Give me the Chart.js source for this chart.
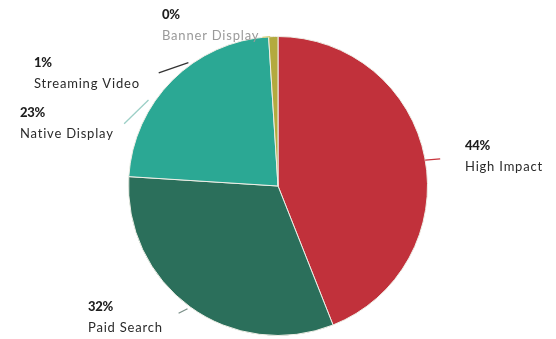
<!DOCTYPE html>
<html>
<head>
<meta charset="utf-8">
<script src="https://cdn.jsdelivr.net/npm/chart.js@4/dist/chart.umd.min.js"></script>
<style>
  html, body { margin: 0; padding: 0; background: #fff; }
  #wrap { width: 556px; height: 339px; }
</style>
</head>
<body>
<div id="wrap"><canvas id="pieChart" width="556" height="339"></canvas></div>
<script>
// channel split, clockwise from 12 o'clock
const channels = ["High Impact", "Paid Search", "Native Display", "Streaming Video", "Banner Display"];
const shares = [44, 32, 23, 1, 0];
const sliceColors = ["#c1313b", "#2b6f5b", "#2ba894", "#b3aa3e", "#d8d070"];

// where each label sits, and its little leader stroke (angle deg, radius factor) -> (angle, radius)
const labelAt = [[465, 146], [88, 307], [20, 113], [34, 63], [162, 15]];
const leaders = [
  [80, 1.0, 80.5, 1.1, "#c8343c"],
  [218, 1.08, 216.4, 1.02, "#7a8f88"],
  [292, 1.11, 303.6, 1.04, "#9ccfc6"],
  [313.5, 1.1, 324, 1.02, "#333333"],
  [354, 1.0, 357, 1.0, "#d8cf7a"]
];
const nameColors = ["#2a2a2a", "#2a2a2a", "#2a2a2a", "#2a2a2a", "#9a9a9a"];

var ctx = document.getElementById("pieChart").getContext("2d");

const outsideLabels = {
  id: "outsideLabels",
  afterDatasetsDraw(chart) {
    const c = chart.ctx;
    const arc0 = chart.getDatasetMeta(0).data[0];
    const cx = arc0.x, cy = arc0.y, r = arc0.outerRadius;
    const pt = (deg, f) => {
      const a = deg * Math.PI / 180;
      return [cx + Math.sin(a) * r * f, cy - Math.cos(a) * r * f];
    };
    c.save();
    leaders.forEach(function(l) {
      const p1 = pt(l[0], l[1]), p2 = pt(l[2], l[3]);
      c.strokeStyle = l[4];
      c.lineWidth = 1.3;
      c.beginPath();
      c.moveTo(p1[0], p1[1]);
      c.lineTo(p2[0], p2[1]);
      c.stroke();
    });
    c.textBaseline = "middle";
    c.textAlign = "left";
    channels.forEach(function(name, i) {
      const x = labelAt[i][0], y = labelAt[i][1];
      c.letterSpacing = "-0.3px";
      c.font = "900 13px Lato";
      c.fillStyle = "#1e1e1e";
      c.fillText(shares[i] + "%", x, y);
      c.letterSpacing = "0.8px";
      c.font = "13px Lato";
      c.fillStyle = nameColors[i];
      c.fillText(name, x, y + 21);
    });
    c.restore();
  }
};

var pieChart = new Chart(ctx, {
  type: "pie",
  data: {
    labels: channels,
    datasets: [{
      data: shares,
      backgroundColor: sliceColors,
      borderColor: "#eeeee6",
      borderWidth: 1
    }]
  },
  options: {
    responsive: false,
    animation: false,
    layout: { padding: { top: 36, bottom: 3, left: 0, right: 0 } },
    plugins: {
      legend: { display: false },
      tooltip: { enabled: false }
    }
  },
  plugins: [outsideLabels]
});
</script>
</body>
</html>
